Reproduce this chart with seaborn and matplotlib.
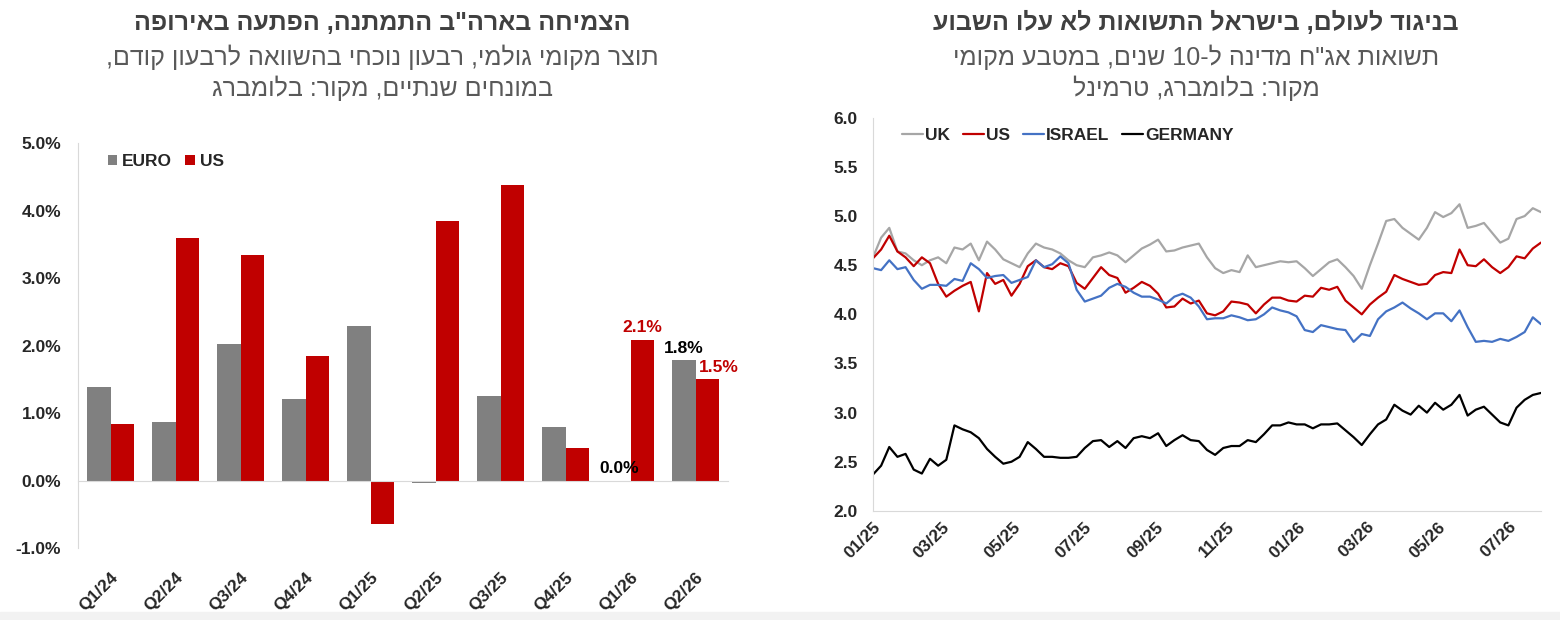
import re
import numpy as np
import pandas as pd
import matplotlib
matplotlib.use('Agg')
import matplotlib.pyplot as plt
import matplotlib.dates as mdates
from matplotlib.patches import Rectangle
import seaborn as sns

# %%
# left panel: real GDP, q/q annualised (%)
quarters = ['Q1/24', 'Q2/24', 'Q3/24', 'Q4/24', 'Q1/25', 'Q2/25', 'Q3/25', 'Q4/25', 'Q1/26', 'Q2/26']
euro_gdp = [1.39, 0.87, 2.03, 1.21, 2.29, -0.03, 1.26, 0.79, 0.0, 1.78]
us_gdp = [0.84, 3.59, 3.34, 1.85, -0.65, 3.84, 4.38, 0.48, 2.09, 1.50]
euro_labels = [''] * 8 + ['0.0%', '1.8%']
us_labels = [''] * 8 + ['2.1%', '1.5%']

# right panel: 10y government yields, weekly readings
yield_dates = pd.date_range('2025-01-01', periods=83, freq='7D')
uk_10y = [4.58, 4.78, 4.88, 4.64, 4.62, 4.55, 4.50, 4.55, 4.58, 4.52,
          4.68, 4.66, 4.72, 4.55, 4.74, 4.66, 4.56, 4.52, 4.48, 4.62,
          4.72, 4.68, 4.66, 4.62, 4.55, 4.50, 4.48, 4.58, 4.60, 4.63,
          4.60, 4.53, 4.60, 4.67, 4.71, 4.76, 4.64, 4.65, 4.68, 4.70,
          4.72, 4.58, 4.47, 4.42, 4.45, 4.43, 4.60, 4.48, 4.50, 4.52,
          4.54, 4.53, 4.54, 4.47, 4.39, 4.46, 4.53, 4.56, 4.48, 4.39,
          4.26, 4.50, 4.72, 4.95, 4.97, 4.88, 4.82, 4.76, 4.88, 5.04,
          4.99, 5.03, 5.12, 4.88, 4.90, 4.93, 4.83, 4.73, 4.77, 4.97,
          5.00, 5.08, 5.04]
us_10y = [4.57, 4.66, 4.80, 4.64, 4.58, 4.49, 4.58, 4.52, 4.31, 4.18,
          4.24, 4.29, 4.33, 4.03, 4.42, 4.31, 4.35, 4.19, 4.31, 4.49,
          4.55, 4.48, 4.46, 4.52, 4.49, 4.32, 4.26, 4.37, 4.48, 4.40,
          4.37, 4.22, 4.27, 4.33, 4.29, 4.21, 4.07, 4.08, 4.16, 4.11,
          4.14, 4.01, 3.99, 4.03, 4.13, 4.12, 4.10, 4.01, 4.10, 4.17,
          4.17, 4.14, 4.13, 4.19, 4.18, 4.27, 4.25, 4.28, 4.14, 4.07,
          4.00, 4.10, 4.17, 4.23, 4.40, 4.36, 4.33, 4.30, 4.31, 4.40,
          4.43, 4.42, 4.66, 4.50, 4.49, 4.56, 4.48, 4.42, 4.48, 4.59,
          4.57, 4.67, 4.73]
israel_10y = [4.47, 4.45, 4.55, 4.46, 4.48, 4.35, 4.26, 4.30, 4.30, 4.29,
              4.36, 4.34, 4.52, 4.46, 4.37, 4.39, 4.40, 4.32, 4.35, 4.38,
              4.55, 4.48, 4.51, 4.59, 4.52, 4.25, 4.13, 4.16, 4.19, 4.27,
              4.31, 4.28, 4.22, 4.18, 4.18, 4.15, 4.11, 4.18, 4.21, 4.17,
              4.08, 3.95, 3.96, 3.96, 3.99, 3.97, 3.94, 3.95, 4.00, 4.07,
              4.04, 4.02, 3.98, 3.84, 3.82, 3.89, 3.87, 3.85, 3.84, 3.72,
              3.80, 3.78, 3.95, 4.03, 4.07, 4.12, 4.06, 4.01, 3.95, 4.01,
              4.01, 3.93, 4.04, 3.87, 3.72, 3.73, 3.72, 3.75, 3.73, 3.77,
              3.82, 3.97, 3.90]
germany_10y = [2.37, 2.46, 2.65, 2.55, 2.58, 2.42, 2.38, 2.53, 2.46, 2.52,
               2.87, 2.83, 2.80, 2.74, 2.63, 2.55, 2.48, 2.50, 2.55, 2.70,
               2.63, 2.55, 2.55, 2.54, 2.54, 2.55, 2.64, 2.71, 2.72, 2.65,
               2.71, 2.64, 2.74, 2.76, 2.74, 2.79, 2.66, 2.72, 2.77, 2.72,
               2.71, 2.62, 2.57, 2.64, 2.66, 2.66, 2.72, 2.70, 2.78, 2.87,
               2.87, 2.90, 2.88, 2.88, 2.84, 2.88, 2.88, 2.89, 2.82, 2.75,
               2.67, 2.78, 2.88, 2.93, 3.08, 3.02, 2.98, 3.07, 3.00, 3.10,
               3.03, 3.08, 3.18, 2.97, 3.03, 3.06, 2.98, 2.90, 2.87, 3.05,
               3.13, 3.18, 3.20]

left_title = 'הצמיחה בארה"ב התמתנה, הפתעה באירופה'
left_sub1 = 'תוצר מקומי גולמי, רבעון נוכחי בהשוואה לרבעון קודם,'
left_sub2 = 'במונחים שנתיים, מקור: בלומברג'
right_title = 'בניגוד לעולם, בישראל התשואות לא עלו השבוע'
right_sub1 = 'תשואות אג"ח מדינה ל-10 שנים, במטבע מקומי'
right_sub2 = 'מקור: בלומברג, טרמינל'


def rtl(s):
    # no bidi in matplotlib -> flip to visual order, keep numbers readable
    out = s[::-1]
    return re.sub(r'\d+', lambda m: m.group(0)[::-1], out)


# %%
sns.set_style('white')
plt.rcParams['font.family'] = ['Liberation Sans', 'DejaVu Sans']

GREY_BAR = '#808080'
RED = '#c00000'
AXIS = '#d9d9d9'

fig = plt.figure(figsize=(15.6, 6.2), dpi=100)
ax1 = fig.add_axes([0.050, 0.116, 0.4167, 0.653])
ax2 = fig.add_axes([0.5596, 0.176, 0.4282, 0.634])

# ---- bars
gdp = pd.DataFrame({'quarter': quarters * 2,
                    'growth': euro_gdp + us_gdp,
                    'region': ['EURO'] * len(quarters) + ['US'] * len(quarters)})
sns.barplot(data=gdp, x='quarter', y='growth', hue='region',
            palette={'EURO': GREY_BAR, 'US': RED}, saturation=1, width=0.72,
            errorbar=None, linewidth=0, ax=ax1)

ax1.set_xlim(-0.5, len(quarters) - 0.5)
ax1.set_ylim(-1, 5)
ax1.set_yticks(np.arange(-1, 5.1, 1))
ax1.yaxis.set_major_formatter(matplotlib.ticker.FuncFormatter(lambda v, p: f'{v:.1f}%'))
ax1.set_xlabel('')
ax1.set_ylabel('')
for s in ['top', 'right']:
    ax1.spines[s].set_visible(False)
ax1.spines['left'].set_color(AXIS)
ax1.spines['bottom'].set_color(AXIS)
ax1.spines['bottom'].set_position(('data', 0))
ax1.set_xticks(np.arange(-0.5, len(quarters), 1), minor=True)
ax1.tick_params(axis='x', which='minor', length=5, color=AXIS, direction='out')
ax1.tick_params(axis='x', which='major', length=0, pad=64)
ax1.tick_params(axis='y', length=0, pad=12)
for lab in ax1.get_xticklabels():
    lab.set_rotation(45)
    lab.set_ha('right')
    lab.set_rotation_mode('anchor')
for lab in ax1.get_xticklabels() + ax1.get_yticklabels():
    lab.set_fontweight('bold')
    lab.set_fontsize(12.5)

ax1.bar_label(ax1.containers[0], labels=euro_labels, padding=3,
              fontsize=12.5, fontweight='bold', color='black')
us_ann = ax1.bar_label(ax1.containers[1], labels=us_labels, padding=3,
                       fontsize=12.5, fontweight='bold', color=RED)
us_ann[-1].xyann = (8, 3)

h, l = ax1.get_legend_handles_labels()
ax1.legend(h, l, loc='upper left', bbox_to_anchor=(0.022, 1.012), ncol=2, frameon=False,
           handlelength=0.55, handleheight=0.55, handletextpad=0.28, columnspacing=0.75,
           prop={'weight': 'bold', 'size': 12.5})

# ---- yields
yields = pd.DataFrame({'date': list(yield_dates) * 4,
                       'yield': uk_10y + us_10y + israel_10y + germany_10y,
                       'country': ['UK'] * 83 + ['US'] * 83 + ['ISRAEL'] * 83 + ['GERMANY'] * 83})
sns.lineplot(data=yields, x='date', y='yield', hue='country',
             hue_order=['UK', 'US', 'ISRAEL', 'GERMANY'],
             palette={'UK': '#a6a6a6', 'US': RED, 'ISRAEL': '#4472c4', 'GERMANY': 'black'},
             linewidth=1.6, ax=ax2)
ax2.set_xlim(yield_dates[0], yield_dates[-1])
ax2.set_ylim(2, 6)
ax2.set_yticks(np.arange(2, 6.01, 0.5))
ax2.yaxis.set_major_formatter(matplotlib.ticker.FormatStrFormatter('%.1f'))
ax2.xaxis.set_major_locator(mdates.MonthLocator(bymonth=[1, 3, 5, 7, 9, 11]))
ax2.xaxis.set_major_formatter(mdates.DateFormatter('%m/%y'))
ax2.set_xlabel('')
ax2.set_ylabel('')
for s in ['top', 'right']:
    ax2.spines[s].set_visible(False)
for s in ['left', 'bottom']:
    ax2.spines[s].set_color(AXIS)
ax2.tick_params(axis='x', length=0, pad=6)
ax2.tick_params(axis='y', length=0, pad=11)
for lab in ax2.get_xticklabels():
    lab.set_rotation(45)
    lab.set_ha('right')
    lab.set_rotation_mode('anchor')
for lab in ax2.get_xticklabels() + ax2.get_yticklabels():
    lab.set_fontweight('bold')
    lab.set_fontsize(12.5)

h, l = ax2.get_legend_handles_labels()
ax2.legend(h, l, loc='upper left', bbox_to_anchor=(0.02, 1.015), ncol=4, frameon=False,
           handlelength=1.2, handletextpad=0.12, columnspacing=0.75,
           prop={'weight': 'bold', 'size': 12.5})

# ---- titles
for xc, lines in [(0.245, [left_title, left_sub1, left_sub2]),
                  (0.7667, [right_title, right_sub1, right_sub2])]:
    fig.text(xc, 0.963, rtl(lines[0]), ha='center', va='center',
             fontsize=18, fontweight='bold', color='#404040')
    fig.text(xc, 0.908, rtl(lines[1]), ha='center', va='center',
             fontsize=18, color='#595959')
    fig.text(xc, 0.858, rtl(lines[2]), ha='center', va='center',
             fontsize=18, color='#595959')

fig.patches.append(Rectangle((0, 0), 1, 8 / 620, transform=fig.transFigure,
                             color='#f2f2f2', zorder=0))

fig.savefig('out.png', dpi=100)
